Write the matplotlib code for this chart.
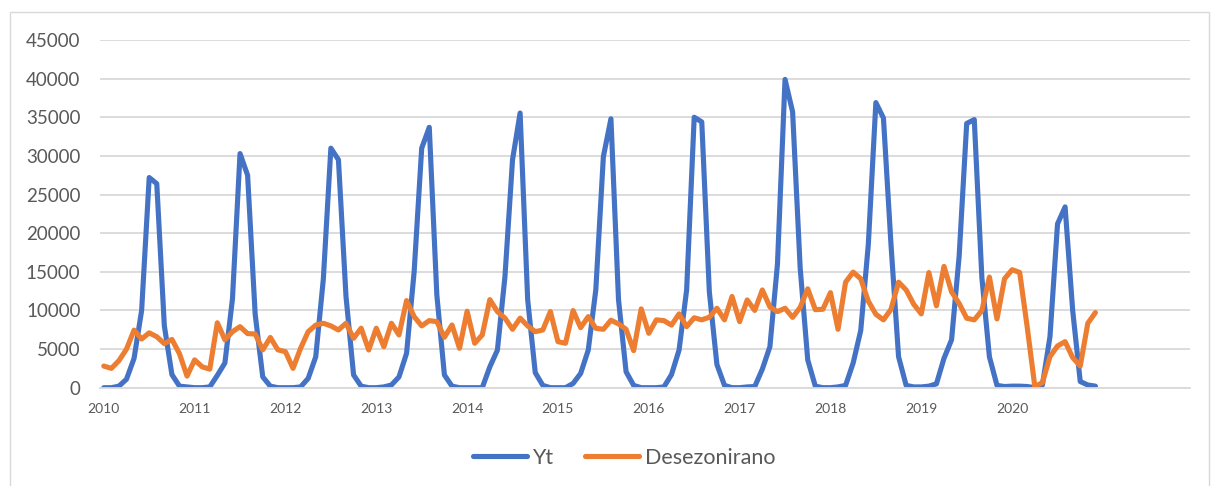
import matplotlib
matplotlib.use('Agg')
from matplotlib import pyplot as plt
from matplotlib.patches import Rectangle

plt.rcParams['font.family'] = ['Lato', 'DejaVu Sans']

years = ['2010', '2011', '2012', '2013', '2014', '2015', '2016', '2017', '2018', '2019', '2020']

# monthly values, Jan 2010 - Dec 2020
yt = [
    0, 0, 200, 1100, 3800, 10000, 27200, 26400, 8000, 1700, 200, 100,
    0, 0, 100, 1600, 3200, 11500, 30300, 27500, 9500, 1400, 200, 0,
    0, 0, 100, 1200, 4000, 14000, 31000, 29500, 11800, 1650, 200, 0,
    0, 100, 350, 1400, 4450, 15000, 31000, 33700, 12000, 1650, 200, 0,
    0, 0, 0, 2700, 4860, 14400, 29500, 35550, 11400, 1950, 300, 0,
    0, 0, 550, 1850, 4860, 12650, 29900, 34800, 11400, 2070, 300, 0,
    0, 0, 100, 1700, 4870, 12650, 35000, 34400, 12400, 3000, 300, 0,
    0, 100, 150, 2400, 5300, 16000, 39900, 35700, 15500, 3600, 200, 0,
    0, 100, 300, 3200, 7400, 18500, 36900, 34900, 18500, 4000, 300, 100,
    100, 200, 500, 3800, 6200, 17000, 34200, 34700, 14300, 4000, 300, 150,
    200, 200, 150, 0, 350, 6600, 21200, 23400, 10000, 800, 350, 200,
]

desez = [
    2800, 2500, 3500, 5000, 7450, 6300, 7100, 6600, 5700, 6250, 4400, 1500,
    3600, 2700, 2400, 8400, 6200, 7250, 7900, 7000, 6950, 4900, 6500, 4900,
    4660, 2500, 5100, 7250, 8100, 8340, 8000, 7470, 8340, 6400, 7700, 4880,
    7700, 5300, 8340, 6830, 11270, 9200, 8000, 8680, 8550, 6530, 8120, 5100,
    9900, 5750, 6830, 11400, 9850, 9000, 7560, 9000, 8000, 7250, 7470, 9850,
    5960, 5750, 9980, 7770, 9200, 7690, 7560, 8730, 8260, 7560, 4800, 10200,
    7040, 8780, 8680, 8100, 9550, 7900, 9050, 8780, 9120, 10280, 8780, 11800,
    8550, 11360, 10000, 12650, 10450, 9850, 10280, 9100, 10400, 12800, 10100, 10150,
    12300, 7560, 13660, 14960, 14100, 11200, 9500, 8780, 10150, 13660, 12650, 10800,
    9550, 14900, 10600, 15700, 12400, 10900, 8990, 8780, 9980, 14320, 8900, 14100,
    15270, 14920, 7800, 150, 650, 4020, 5400, 5960, 3900, 2800, 8340, 9720,
]

months = list(range(len(yt)))

fig = plt.figure(figsize=(12.2, 4.86), dpi=100)
ax = fig.add_axes([100 / 1220, 1 - 387.7 / 486, 1090 / 1220, 347.7 / 486])

# chart border
fig.patches.append(Rectangle((10 / 1220, -0.05), 1199 / 1220, (486 - 12) / 486 + 0.05,
                             transform=fig.transFigure, fill=False,
                             edgecolor='#d9d9d9', linewidth=1.0))

ax.plot(months, yt, color='#4472C4', linewidth=3.7, label='Yt',
        solid_joinstyle='round', solid_capstyle='round')
ax.plot(months, desez, color='#ED7D31', linewidth=3.7, label='Desezonirano',
        solid_joinstyle='round', solid_capstyle='round')

ax.set_ylim(0, 45000)
ax.set_xlim(-0.5, 143.5)
ax.set_yticks(range(0, 45001, 5000))
ax.set_xticks(range(0, 121, 12))
ax.set_xticklabels(years)

ax.grid(axis='y', color='#d9d9d9', linewidth=1.3)
ax.set_axisbelow(True)
for s in ['top', 'right', 'left']:
    ax.spines[s].set_visible(False)
ax.spines['bottom'].set_color('#d9d9d9')
ax.spines['bottom'].set_linewidth(1.3)

ax.tick_params(axis='y', length=0, pad=14, labelsize=13.5, labelcolor='#595959')
ax.tick_params(axis='x', length=0, pad=11, labelsize=10, labelcolor='#595959')

fig.legend(loc='center', bbox_to_anchor=(624 / 1220, 1 - 458 / 486), ncol=2,
           frameon=False, fontsize=15.5, handlelength=2.5, handletextpad=0.25,
           columnspacing=1.5, labelcolor='#595959')

fig.savefig('out.png', dpi=100)
